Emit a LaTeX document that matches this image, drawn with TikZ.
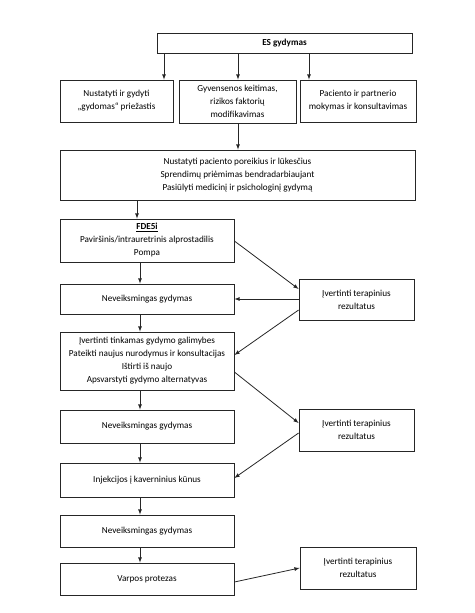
\documentclass[tikz,border=0pt]{standalone}
\usepackage{fontspec}
\setmainfont{Carlito}

\begin{document}
\begin{tikzpicture}[x=1pt, y=-1pt,
    box/.style={draw=black!85, line width=0.8pt, align=center, inner sep=2pt,
        font=\fontsize{9.2}{13}\selectfont},
    arr/.style={draw=black!85, line width=0.8pt, -latex}]
            \useasboundingbox (0, 0) rectangle (474, 613);
            \def\lx{147}
            \def\lw{174}
            \def\rx{356.5}
            \def\rw{115}
            \def\ax{140}
            % top row
            \node[box, minimum width=255, minimum height=20] (es) at (284.5, 43) {\textbf{ES gydymas}};
            \node[box, minimum width=113, minimum height=42] (cause) at (116.5, 101) {Nustatyti ir gydyti\\„gydomas“ priežastis};
            \node[box, minimum width=117, minimum height=43] (life) at (237.5, 101.5) {Gyvensenos keitimas,\\rizikos faktorių\\modifikavimas};
            \node[box, minimum width=116, minimum height=42] (edu) at (358, 101) {Paciento ir partnerio\\mokymas ir konsultavimas};
            \node[box, minimum width=355, minimum height=50] (needs) at (237.5, 175) {Nustatyti paciento poreikius ir lūkesčius\\Sprendimų priėmimas bendradarbiaujant\\Pasiūlyti medicinį ir psichologinį gydymą};
            % left column
            \node[box, minimum width=\lw, minimum height=43] (pde) at (\lx, 240.5) {\textbf{\underline{FDE5i}}\\Paviršinis/intrauretrinis alprostadilis\\Pompa};
            \node[box, minimum width=\lw, minimum height=30] (fail1) at (\lx, 299) {Neveiksmingas gydymas};
            \node[box, minimum width=\lw, minimum height=58] (options) at (\lx, 361) {Įvertinti tinkamas gydymo galimybes\\Pateikti naujus nurodymus ir konsultacijas\\Ištirti iš naujo\\Apsvarstyti gydymo alternatyvas};
            \node[box, minimum width=\lw, minimum height=33] (fail2) at (\lx, 426.5) {Neveiksmingas gydymas};
            \node[box, minimum width=\lw, minimum height=34] (inj) at (\lx, 480) {Injekcijos į kaverninius kūnus};
            \node[box, minimum width=\lw, minimum height=32] (fail3) at (\lx, 531) {Neveiksmingas gydymas};
            \node[box, minimum width=\lw, minimum height=32] (prost) at (\lx, 579) {Varpos protezas};
            % right column
            \node[box, minimum width=\rw, minimum height=41] (eval1) at (\rx, 299.5) {Įvertinti terapinius\\rezultatus};
            \node[box, minimum width=\rw, minimum height=42] (eval2) at (\rx, 430) {Įvertinti terapinius\\rezultatus};
            \node[box, minimum width=116, minimum height=42] (eval3) at (358, 568) {Įvertinti terapinius\\rezultatus};

            % arrows down from the top
            \draw[arr] (164, 0 |- es.south) -- (164, 0 |- cause.north);
            \draw[arr] (238, 0 |- es.south) -- (238, 0 |- life.north);
            \draw[arr] (309, 0 |- es.south) -- (309, 0 |- edu.north);
            \draw[arr] (238, 0 |- life.south) -- (238, 0 |- needs.north);
            \draw[arr] (137, 0 |- needs.south) -- (137, 0 |- pde.north);
            \foreach \a/\b in {pde/fail1, fail1/options, options/fail2, fail2/inj, inj/fail3, fail3/prost}
                \draw[arr] (\ax, 0 |- \a.south) -- (\ax, 0 |- \b.north);

            % evaluation loops
            \draw[arr] (pde.east |- 0, 241) -- (eval1.west |- 0, 289);
            \draw[arr] (eval1.west |- fail1.east) -- (fail1.east);
            \draw[arr] (eval1.west |- 0, 310) -- (options.east |- 0, 355);
            \draw[arr] (options.east |- 0, 372) -- (eval2.west |- 0, 423);
            \draw[arr] (eval2.west |- 0, 433) -- (inj.east |- 0, 478);
            \draw[arr] (prost.east |- 0, 582) -- (eval3.west |- 0, 568);
        \end{tikzpicture}
\end{document}
